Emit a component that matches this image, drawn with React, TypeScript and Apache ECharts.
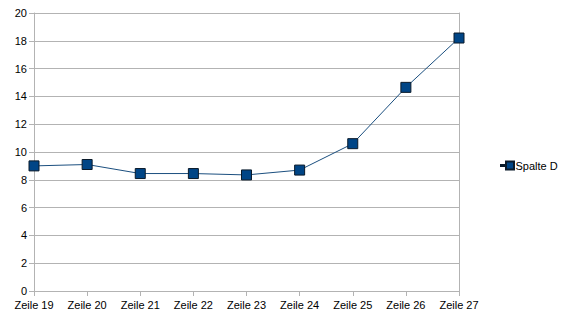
import React, { useEffect, useRef } from "react";
import * as echarts from "echarts";

const categories = ["Zeile 19", "Zeile 20", "Zeile 21", "Zeile 22", "Zeile 23", "Zeile 24", "Zeile 25", "Zeile 26", "Zeile 27"];
const spalteD = [9.0, 9.1, 8.45, 8.45, 8.35, 8.7, 10.6, 14.65, 18.2];
const seriesName = "Spalte D";

export default function App() {
  const ref = useRef<HTMLDivElement>(null);
  useEffect(() => {
    if (!ref.current) return;
    const chart = echarts.init(ref.current, null, { renderer: "svg" });
    const font = "Liberation Sans";
    chart.setOption({
      animation: false,
      backgroundColor: "#ffffff",
      textStyle: { fontFamily: font },
      grid: { left: 34, right: 112, top: 13, bottom: 35, containLabel: false },
      legend: {
        show: true,
        orient: "vertical",
        left: 495,
        top: 155,
        itemWidth: 14,
        itemHeight: 8,
        itemGap: 5,
        textStyle: { fontFamily: font, fontSize: 11, color: "#000", padding: [0, 0, 0, -4] },
        data: [{ name: seriesName, icon: "path://M0,3.5 L5,3.5 L5,0 L13,0 L13,8 L5,8 L5,4.5 L0,4.5 Z" }],
      },
      xAxis: {
        type: "category",
        data: categories,
        boundaryGap: false,
        axisLine: { show: true, lineStyle: { color: "#b3b3b3", width: 1 } },
        axisTick: { show: true, length: 5, lineStyle: { color: "#b3b3b3" } },
        axisLabel: { color: "#000", fontSize: 11, fontFamily: font, margin: 8 },
        splitLine: { show: false },
      },
      yAxis: [
        {
          type: "value",
          min: 0,
          max: 20,
          interval: 2,
          axisLine: { show: true, lineStyle: { color: "#b3b3b3", width: 1 } },
          axisTick: { show: true, length: 5, lineStyle: { color: "#b3b3b3" } },
          axisLabel: { color: "#000", fontSize: 11, fontFamily: font, margin: 7 },
          splitLine: { show: true, lineStyle: { color: "#b3b3b3", width: 1 } },
        },
        {
          type: "value",
          min: 0,
          max: 20,
          interval: 2,
          position: "right",
          axisLine: { show: true, lineStyle: { color: "#b3b3b3", width: 1 } },
          axisTick: { show: false },
          axisLabel: { show: false },
          splitLine: { show: false },
        },
      ],
      series: [
        {
          name: seriesName,
          type: "line",
          data: spalteD,
          yAxisIndex: 0,
          symbol: "rect",
          symbolSize: 10,
          showAllSymbol: true,
          lineStyle: { color: "#1b4f7f", width: 1 },
          itemStyle: { color: "#004586", borderColor: "#0a1a2a", borderWidth: 1 },
        },
      ],
    });
    return () => chart.dispose();
  }, []);
  return <div ref={ref} style={{ width: 571, height: 326, margin: -8 }} />;
}
